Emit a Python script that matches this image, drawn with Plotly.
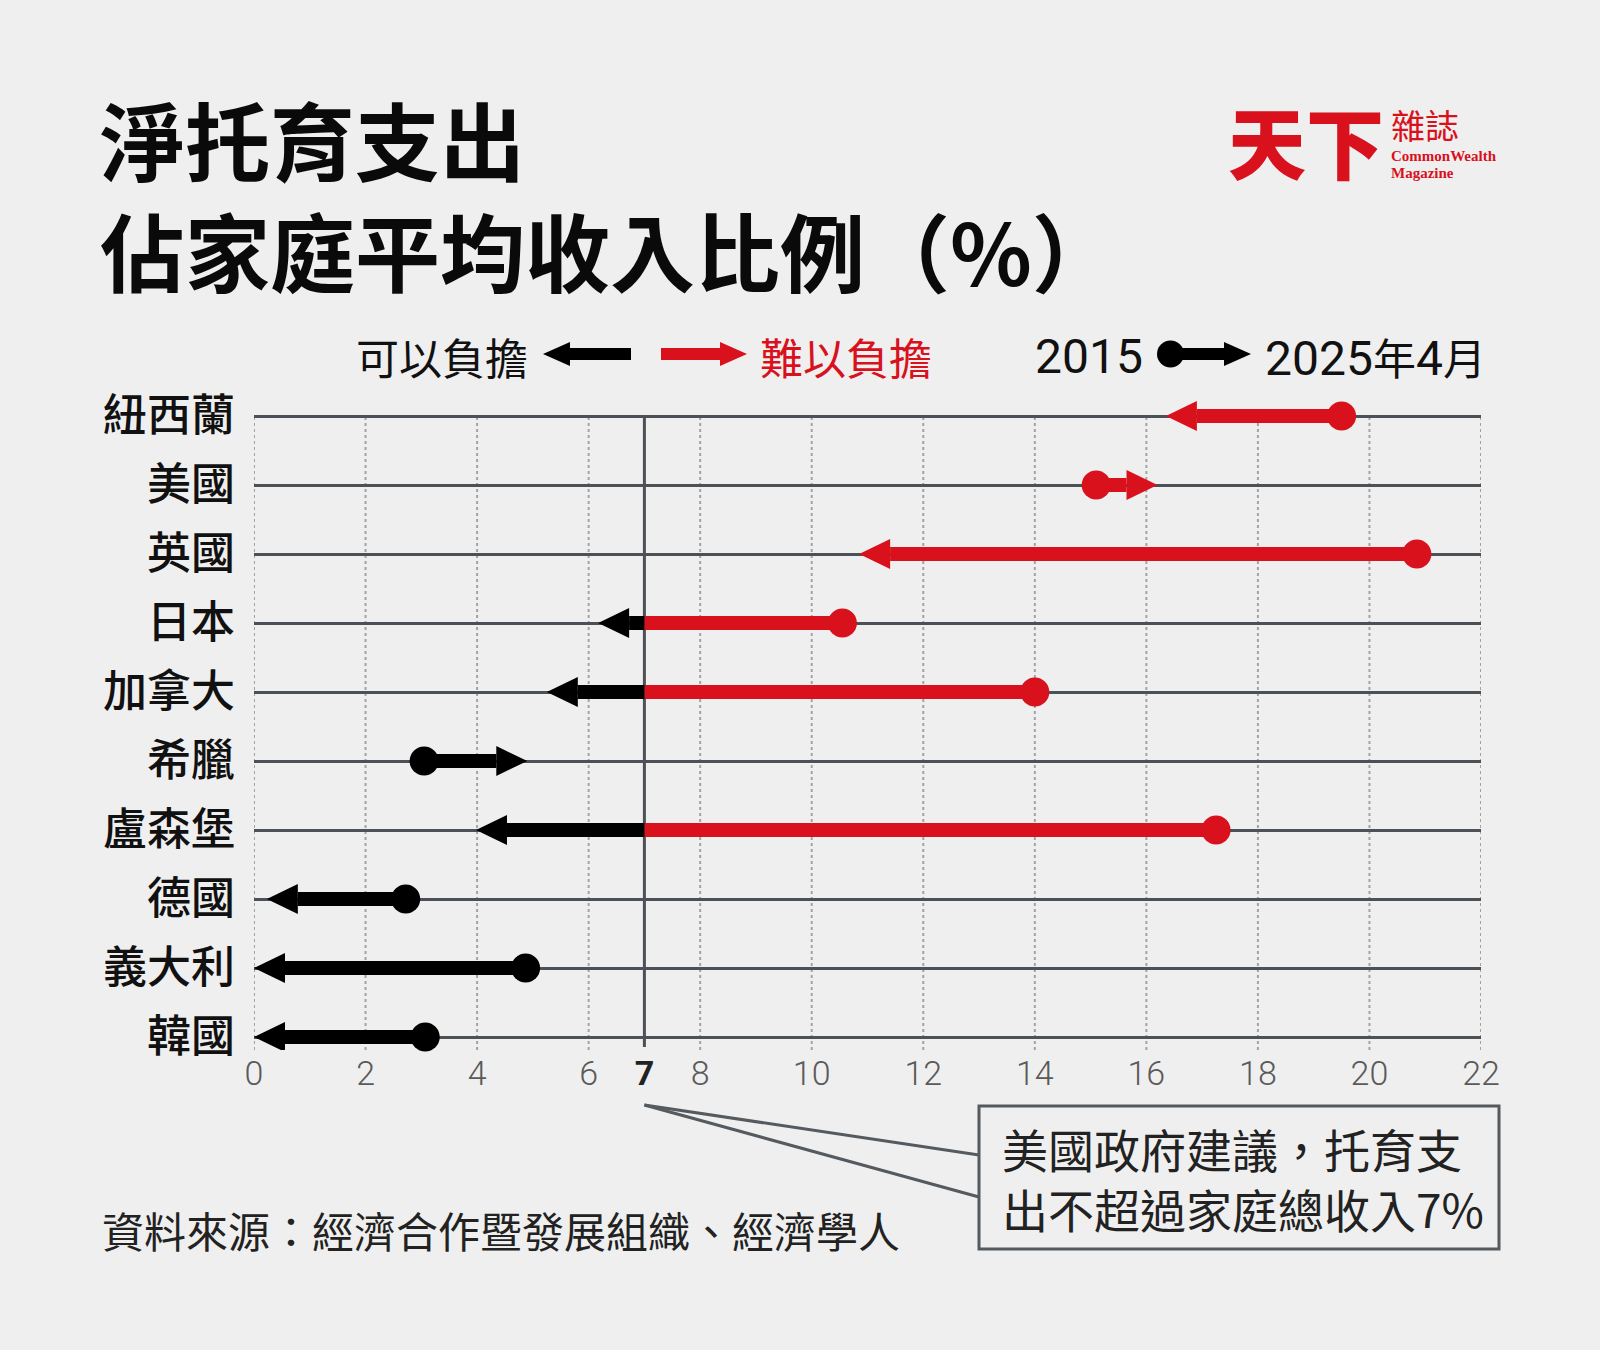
import plotly.graph_objects as go

# ---------------- data ----------------
countries = ["紐西蘭", "美國", "英國", "日本", "加拿大", "希臘", "盧森堡", "德國", "義大利", "韓國"]
share_2015 = [19.5, 15.1, 20.85, 10.55, 14.0, 3.05, 17.25, 2.72, 4.87, 3.07]
share_2025 = [16.35, 16.2, 10.85, 6.17, 5.25, 4.9, 3.98, 0.23, 0.0, 0.0]
x_tick_vals = [0, 2, 4, 6, 7, 8, 10, 12, 14, 16, 18, 20, 22]
threshold = 7

# ---------------- style ----------------
RED = "#d8111c"
BLACK = "#000000"
GRID = "#4b5157"
BG = "#efefef"
CJK = "Noto Sans CJK TC"
NARROW = "Liberation Sans Narrow, Roboto"

FIG_W, FIG_H = 1600, 1350
L, R, T, B = 254, 1481, 380, 1050          # plot area in pixels
X_MAX = 22
ROW_GAP = 69.0                              # px between rows
N = len(countries)
rows = [N - 1 - i for i in range(N)]
y_top = (N - 1) + (416 - T) / ROW_GAP
y_bot = -(B - 1037) / ROW_GAP
px_per_x = (R - L) / X_MAX

HEAD_LEN = 31 / px_per_x
HEAD_HALF = 15 / ROW_GAP


def pxx(x):
    return (x - L) / (R - L)


def pxy(y):
    return (B - y) / (B - T)


fig = go.Figure()

# ---------------- segments and arrowheads ----------------
seg = {RED: ([], []), BLACK: ([], [])}
heads = {RED: ([], []), BLACK: ([], [])}
for a, b, y in zip(share_2015, share_2025, rows):
    d = 1 if b > a else -1
    base = b - d * HEAD_LEN
    lo, hi = min(a, base), max(a, base)
    if lo < threshold < hi:
        parts = [(lo, threshold, BLACK), (threshold, hi, RED)]
    else:
        parts = [(lo, hi, RED if lo >= threshold else BLACK)]
    for s0, s1, c in parts:
        seg[c][0].extend([s0, s1, None])
        seg[c][1].extend([y, y, None])
    hc = RED if b > threshold else BLACK
    heads[hc][0].extend([b, base, base, b, None])
    heads[hc][1].extend([y, y + HEAD_HALF, y - HEAD_HALF, y, None])

for c in (RED, BLACK):
    fig.add_trace(go.Scatter(x=seg[c][0], y=seg[c][1], mode="lines",
                             line=dict(color=c, width=14), hoverinfo="skip",
                             showlegend=False))
for c in (RED, BLACK):
    fig.add_trace(go.Scatter(x=heads[c][0], y=heads[c][1], mode="lines",
                             fill="toself", fillcolor=c, line=dict(width=0, color=c),
                             hoverinfo="skip", showlegend=False))

fig.add_trace(go.Scatter(
    x=share_2015, y=rows, mode="markers",
    marker=dict(size=29, color=[RED if v > threshold else BLACK for v in share_2015],
                line=dict(width=0)),
    showlegend=False, cliponaxis=False))

# ---------------- grid shapes ----------------
shapes = []
for v in x_tick_vals:
    if v == threshold:
        continue
    shapes.append(dict(type="line", xref="x", yref="y", x0=v, x1=v, y0=y_bot, y1=N - 1,
                       line=dict(color="#a3a3a3", width=2, dash="dot"), layer="below"))
shapes.append(dict(type="line", xref="x", yref="y", x0=threshold, x1=threshold,
                   y0=-(1047 - 1037) / ROW_GAP, y1=N - 1,
                   line=dict(color=GRID, width=3), layer="below"))

# callout lines and box
shapes.append(dict(type="line", xref="x", yref="paper", x0=threshold, y0=pxy(1105),
                   x1=(979 - L) / px_per_x, y1=pxy(1155), line=dict(color="#555a5f", width=3)))
shapes.append(dict(type="line", xref="x", yref="paper", x0=threshold, y0=pxy(1105),
                   x1=(979 - L) / px_per_x, y1=pxy(1197), line=dict(color="#555a5f", width=3)))
shapes.append(dict(type="rect", xref="paper", yref="paper", x0=pxx(979), x1=pxx(1499),
                   y0=pxy(1106), y1=pxy(1249), line=dict(color="#555a5f", width=3),
                   fillcolor=BG))


# ---------------- legend glyphs ----------------
def arrow(x_tail, x_tip, yc, color, body=12, head_len=27, head_half=12):
    d = 1 if x_tip > x_tail else -1
    base = x_tip - d * head_len
    out = [dict(type="line", xref="paper", yref="paper", x0=pxx(x_tail), x1=pxx(base + d),
                y0=pxy(yc), y1=pxy(yc), line=dict(color=color, width=body))]
    path = "M{},{} L{},{} L{},{} Z".format(
        pxx(x_tip), pxy(yc), pxx(base), pxy(yc - head_half), pxx(base), pxy(yc + head_half))
    out.append(dict(type="path", xref="paper", yref="paper", path=path,
                    fillcolor=color, line=dict(width=0)))
    return out


LEG_Y = 354
shapes += arrow(631, 543, LEG_Y, BLACK)
shapes += arrow(661, 747, LEG_Y, RED)
shapes += arrow(1172, 1251, LEG_Y, BLACK)
shapes.append(dict(type="circle", xref="paper", yref="paper",
                   x0=pxx(1157), x1=pxx(1184), y0=pxy(LEG_Y - 13.5), y1=pxy(LEG_Y + 13.5),
                   fillcolor=BLACK, line=dict(width=0)))

# ---------------- annotations ----------------
ann = []


def text(s, x, y, size, color="#111111", family=CJK, weight="normal", xanchor="left",
         align="left"):
    ann.append(dict(text=s, xref="paper", yref="paper", x=pxx(x), y=pxy(y),
                    xanchor=xanchor, yanchor="middle", showarrow=False, align=align,
                    font=dict(family=family, size=size, color=color, weight=weight)))


text("淨托育支出<br>佔家庭平均收入比例（%）", 98, 193, 85, "#0a0a0a", weight="bold")

# logo
text("天下", 1306, 140, 78, RED, weight=900, xanchor="center")
text("雜誌", 1389, 124, 34, RED)
text("<b>CommonWealth</b>", 1389, 156, 15, RED, family="Liberation Serif, DejaVu Serif")
text("<b>Magazine</b>", 1389, 173, 15, RED, family="Liberation Serif, DejaVu Serif")

# legend texts
text("可以負擔", 530, LEG_Y + 2, 43, "#111111", xanchor="right")
text("難以負擔", 758, LEG_Y + 2, 43, RED)
text("2015", 1145, LEG_Y + 2, 48, "#111111", family=NARROW, xanchor="right")
text("2025<span style=\"font-family:'Noto Sans CJK TC';font-size:43px\">年</span>4"
     "<span style=\"font-family:'Noto Sans CJK TC';font-size:43px\">月</span>",
     1263, LEG_Y + 2, 48, "#111111", family=NARROW)

# footer and callout text
text("資料來源：經濟合作暨發展組織、經濟學人", 100, 1229, 42, "#222222")
text("美國政府建議，托育支<br>出不超過家庭總收入7%", 1000, 1178, 46, "#222222")

tick_text = ["<b><span style='color:#222'>{}</span></b>".format(v) if v == threshold else str(v)
             for v in x_tick_vals]

fig.update_layout(
    width=FIG_W, height=FIG_H,
    margin=dict(l=L, r=FIG_W - R, t=T, b=FIG_H - B, pad=0),
    paper_bgcolor=BG, plot_bgcolor=BG,
    xaxis=dict(range=[0, X_MAX], tickvals=x_tick_vals, ticktext=tick_text,
               showgrid=False, zeroline=False, showline=False, ticks="",
               tickfont=dict(family=NARROW, size=34, color="#5a5a5a", weight=300),
               fixedrange=True),
    yaxis=dict(range=[y_bot, y_top], tickvals=rows, ticktext=countries,
               showgrid=True, gridcolor=GRID, gridwidth=3, zeroline=False,
               showline=False, ticks="", ticklabelstandoff=18,
               tickfont=dict(family=CJK, size=44, color="#111111", weight=500),
               fixedrange=True),
    shapes=shapes, annotations=ann, showlegend=False,
)

fig.write_html("out.html")
